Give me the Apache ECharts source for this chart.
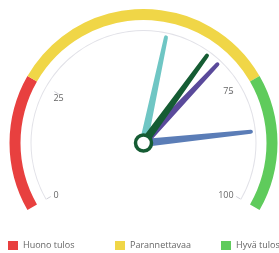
<html lang="fi">
<head>
  <meta charset="UTF-8">
  <title>Mittari</title>
  <style>
    *{ margin: 0; padding: 0; }
    body{ background: #fff; }
    #main{ width: 279px; height: 253px; }
  </style>
</head>
<body>
  <div id="main"></div>
  <script src="https://cdn.jsdelivr.net/npm/echarts@6/dist/echarts.min.js"></script>
  <script type="text/javascript">
  // vyöhykkeet (nimi + raja-arvot)
  var bandNames = ['Huono tulos', 'Parannettavaa', 'Hyvä tulos'];
  var bandLimits = [0, 25, 75, 100];
  var bandColors = ['#e8403f', '#f0d647', '#5fcb5c'];

  // viisarit
  var needleValues = [85, 55, 68, 65];
  var needleColors = ['#5b7db7', '#6fc6c4', '#5a4a9b', '#155c33'];

  var START = 210, END = -30;
  var CENTER = [143.5, 143];
  var MIN = bandLimits[0], MAX = bandLimits[bandLimits.length - 1];

  function angleOf(v) {
    return START - (v - MIN) / (MAX - MIN) * (START - END);
  }

  var hidden = {
    splitLine: { show: false },
    axisTick: { show: false },
    axisLabel: { show: false },
    pointer: { show: false },
    anchor: { show: false },
    title: { show: false },
    detail: { show: false }
  };

  var series = [];

  // värivyöhykkeet, yksi sarja per vyöhyke (legendaa varten)
  bandNames.forEach(function (name, i) {
    series.push(Object.assign({
      name: name,
      type: 'gauge',
      center: CENTER,
      radius: 134,
      startAngle: angleOf(bandLimits[i]),
      endAngle: angleOf(bandLimits[i + 1]),
      min: bandLimits[i],
      max: bandLimits[i + 1],
      itemStyle: { color: bandColors[i] },
      axisLine: { lineStyle: { width: 11, color: [[1, bandColors[i]]] } },
      data: []
    }, hidden));
  });

  var labelStyle = {
    distance: 4,
    color: '#666',
    fontSize: 9,
    fontFamily: 'Open Sans',
    formatter: function (v) {
      return v === bandLimits[1] ? '{low|' + v + '}' : '{n|' + v + '}';
    },
    rich: {
      low: { fontSize: 9, fontFamily: 'Open Sans', color: '#666', padding: [14, 0, 0, 0] },
      n: { fontSize: 9, fontFamily: 'Open Sans', color: '#666' }
    }
  };
  var tickStyle = { show: true, length: 5, distance: 0, lineStyle: { width: 1, color: '#cfcfd6' } };

  // asteikon merkit 25 ja 75
  series.push(Object.assign({}, hidden, {
    name: 'rajat',
    type: 'gauge',
    center: CENTER,
    radius: 113,
    startAngle: angleOf(bandLimits[1]),
    endAngle: angleOf(bandLimits[2]),
    min: bandLimits[1],
    max: bandLimits[2],
    splitNumber: 1,
    axisLine: { show: false },
    splitLine: tickStyle,
    axisLabel: labelStyle,
    data: []
  }));

  // ohut asteikko + viisarit
  series.push({
    name: 'arvot',
    type: 'gauge',
    center: CENTER,
    radius: 113,
    startAngle: START,
    endAngle: END,
    min: MIN,
    max: MAX,
    splitNumber: 1,
    axisLine: { lineStyle: { width: 1, color: [[1, '#e2e2e8']] } },
    splitLine: tickStyle,
    axisTick: { show: false },
    axisLabel: labelStyle,
    pointer: {
      icon: 'path://M2,2 A2,2 0 0 1 6,2 L8,100 L0,100 Z',
      length: 110,
      width: 8,
      offsetCenter: [0, 0]
    },
    anchor: {
      show: true,
      showAbove: true,
      size: 16,
      itemStyle: { color: '#fff', borderColor: '#155c33', borderWidth: 3.5 }
    },
    title: { show: false },
    detail: { show: false },
    data: needleValues.map(function (v, i) {
      return { value: v, itemStyle: { color: needleColors[i] } };
    })
  });

  var legendLefts = [8, 115, 221];
  var legends = bandNames.map(function (name, i) {
    return {
      data: [name],
      left: legendLefts[i],
      top: 241,
      padding: 0,
      icon: 'rect',
      itemWidth: 10,
      itemHeight: 9,
      itemGap: 5,
      selectedMode: false,
      textStyle: { color: '#666', fontSize: 9, fontFamily: 'Open Sans' }
    };
  });

  var myChart = echarts.init(document.getElementById('main'));
  myChart.setOption({
    animation: false,
    legend: legends,
    series: series
  });
  </script>
</body>
</html>
